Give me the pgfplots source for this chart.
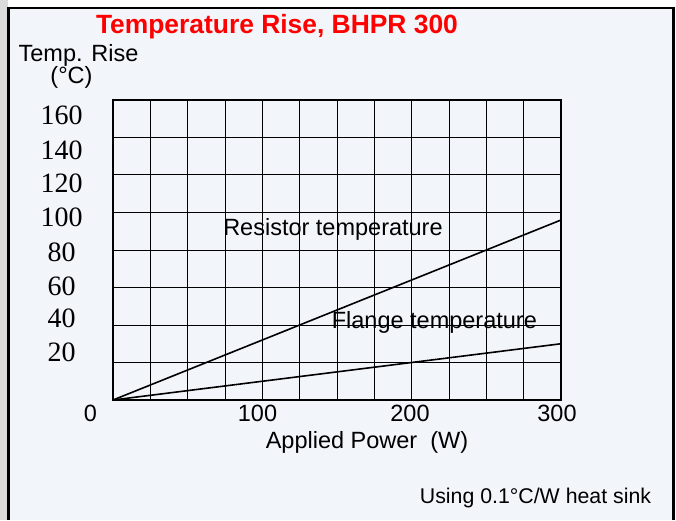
\documentclass[border=0pt]{standalone}
\usepackage{pgfplots}
\pgfplotsset{compat=1.18}
\usepackage{fontspec}
\setmainfont{Liberation Sans}
\newfontfamily\seriffont{Liberation Serif}
\definecolor{bg}{RGB}{242,245,250}
\definecolor{titlered}{RGB}{255,0,0}
\begin{document}
\begin{tikzpicture}[x=1pt,y=1pt]
\fill[white] (0,0) rectangle (676,520);
\fill[black!14] (0,0) rectangle (8,520);
\fill[bg] (8.7,0) rectangle (673.3,512.2);
\draw[line width=2.5pt] (8.7,0) -- (8.7,512.2) -- (673.3,512.2) -- (673.3,0);
\begin{axis}[at={(113pt,120pt)}, anchor=south west, scale only axis,
  width=448pt, height=300pt,
  xmin=0, xmax=300, ymin=0, ymax=160,
  xtick={0,25,...,300}, ytick={0,20,...,160},
  xticklabels={}, yticklabels={},
  major tick length=0pt,
  grid=major, grid style={black, line width=1pt},
  axis line style={black, line width=1.2pt},
  clip=false]
\addplot[black, line width=1.6pt] coordinates {(0,0) (300,96)};
\addplot[black, line width=1.6pt] coordinates {(0,0) (300,30)};
\node[anchor=base west, inner sep=0pt, font=\fontsize{23.5}{26}\selectfont] at (axis cs:73.7,88) {Resistor temperature};
\node[anchor=base west, inner sep=0pt, font=\fontsize{23.5}{26}\selectfont] at (axis cs:146.4,38.2) {Flange temperature};
\end{axis}
% title and axis titles
\node[anchor=base, inner sep=0pt, text=titlered, font=\fontsize{26.4}{30}\selectfont\bfseries] at (277,486.7) {Temperature Rise, BHPR 300};
\node[anchor=base, inner sep=0pt, font=\fontsize{23.5}{26}\selectfont] at (78.5,458.3) {Temp. Rise};
\node[anchor=base, inner sep=0pt, font=\fontsize{23.5}{26}\selectfont] at (71.5,436.7) {(°C)};
% y tick labels (serif)
\foreach \v/\yy in {160/115.5,140/150.5,120/183.5,100/217,80/252,60/286.5,40/318,20/352}{
  \node[inner sep=0pt, font=\fontsize{28}{30}\selectfont\seriffont] at (61.5,520-\yy) {\v};
}
% x tick labels
\foreach \v/\xx in {0/90.5,100/257.5,200/410,300/557}{
  \node[inner sep=0pt, font=\fontsize{23.5}{26}\selectfont] at (\xx,520-413.5) {\v};
}
\node[anchor=base, inner sep=0pt, font=\fontsize{23.5}{26}\selectfont] at (367,520-448) {Applied Power\ \ (W)};
\node[anchor=base, inner sep=0pt, font=\fontsize{21.3}{24}\selectfont] at (535.5,520-503.3) {Using 0.1°C/W heat sink};
\pgfresetboundingbox
\useasboundingbox (0,0) rectangle (676,520);
\end{tikzpicture}
\end{document}
